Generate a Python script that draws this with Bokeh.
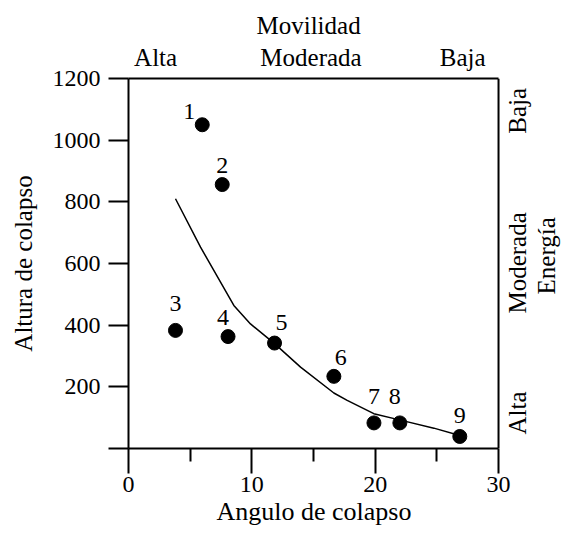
import math
from bokeh.plotting import figure
from bokeh.models import Range1d, LinearAxis, FixedTicker, ColumnDataSource, Label, Span, Title
from bokeh.embed import file_html
from bokeh.resources import INLINE
from bokeh.core.properties import value

# ---- data ----
point_ids = ["1", "2", "3", "4", "5", "6", "7", "8", "9"]
collapse_angle = [5.98, 7.6, 3.81, 8.07, 11.84, 16.65, 19.9, 22.0, 26.86]
collapse_height = [1050, 856, 383, 363, 342, 234, 83, 83, 39]

fit_angle = [3.81, 5.84, 8.54, 9.89, 11.84, 13.95, 16.65, 17.73, 19.89, 22.05, 24.76, 26.86]
fit_height = [810, 653, 464, 404, 340, 264, 180, 156, 113, 92, 66, 42]

x_ticks = [0, 10, 20, 30]
x_minor_ticks = [5, 15, 25]
y_ticks = [0, 200, 400, 600, 800, 1000, 1200]

mobility_labels = ["Alta", "Moderada", "Baja"]
mobility_pos = [2.2, 14.8, 27.1]
energy_labels = ["Alta", "Moderada", "Baja"]
energy_pos = [115, 602, 1095]
energy_title = "Energía"
energy_title_pos = 625

X_MAX = 30      # end of the angle axis
X_VIEW = 35.43  # view extends past the box so the right-hand words fit
# layout (not data): label placement in screen px relative to each point
label_dx = [-13, 0, 0, -5, 7, 7, 0, -5, 0]
label_dy = [-13, -19, -27, -19, -21, -19, -26, -26, -21]

FONT = "'Liberation Serif', 'Times New Roman', 'DejaVu Serif', serif"
TICK_SIZE = "24px"
WORD_SIZE = "25px"
LABEL_SIZE = "25px"

p = figure(width=565, height=533, output_backend="svg", toolbar_location=None,
           x_range=Range1d(0, X_VIEW), y_range=Range1d(0, 1200),
           min_border_left=128, min_border_right=0, min_border_top=78, min_border_bottom=85,
           y_axis_label="Altura de colapso")
p.grid.visible = False
p.background_fill_color = "white"
p.border_fill_color = "white"
p.outline_line_color = None

p.title.text = "Movilidad"
p.title.align = "left"
p.title.offset = 128
p.title.text_font = FONT
p.title.text_font_size = LABEL_SIZE
p.title.text_font_style = "normal"
p.title.text_color = "black"
p.title.standoff = 4

def style_axis(ax, tick_size):
    ax.major_label_text_font = FONT
    ax.major_label_text_font_size = tick_size
    ax.major_label_text_color = "black"
    ax.axis_label_text_font = FONT
    ax.axis_label_text_font_size = LABEL_SIZE
    ax.axis_label_text_font_style = "normal"
    ax.axis_label_text_color = "black"
    ax.axis_line_color = "black"
    ax.axis_line_width = 2
    ax.major_tick_line_color = "black"
    ax.major_tick_line_width = 2
    ax.minor_tick_line_color = "black"
    ax.minor_tick_line_width = 2
    ax.major_tick_in = 0
    ax.minor_tick_in = 0

xa = p.xaxis[0]
style_axis(xa, TICK_SIZE)
xa.bounds = (0, X_MAX)
xa.ticker = FixedTicker(ticks=x_ticks, minor_ticks=x_minor_ticks)
xa.major_tick_out = 25
xa.minor_tick_out = 13
xa.major_label_standoff = 3

p.add_layout(Title(text="Angulo de colapso", align="left", offset=88,
                   text_font=FONT, text_font_size="26px", text_font_style="normal",
                   text_color="black", standoff=0), "below")

ya = p.yaxis[0]
style_axis(ya, TICK_SIZE)
ya.ticker = FixedTicker(ticks=y_ticks)
ya.major_label_overrides = {0: ""}
ya.major_tick_out = 20
ya.minor_tick_out = 0
ya.major_label_standoff = 8
ya.axis_label_standoff = 13

top = LinearAxis(ticker=FixedTicker(ticks=mobility_pos), bounds=(0, X_MAX),
                 major_label_overrides={v: t for v, t in zip(mobility_pos, mobility_labels)})
style_axis(top, WORD_SIZE)
top.major_tick_line_color = None
top.minor_tick_line_color = None
top.major_tick_out = 0
top.minor_tick_out = 0
top.major_label_standoff = 8
p.add_layout(top, "above")

# right edge of the box
p.add_layout(Span(location=X_MAX, dimension="height", line_color="black", line_width=2))

# right-hand energy scale
for txt, yv in zip(energy_labels, energy_pos):
    p.add_layout(Label(x=31.52, y=yv, text=txt, angle=math.pi / 2,
                       text_align="center", text_baseline="alphabetic",
                       text_font=FONT, text_font_size=WORD_SIZE, text_color="black"))
p.add_layout(Label(x=33.92, y=energy_title_pos, text=energy_title, angle=math.pi / 2,
                   text_align="center", text_baseline="alphabetic",
                   text_font=FONT, text_font_size=LABEL_SIZE, text_color="black"))

p.line(fit_angle, fit_height, line_color="black", line_width=1.5)

src = ColumnDataSource(dict(x=collapse_angle, y=collapse_height, t=point_ids,
                            dx=label_dx, dy=label_dy))
p.scatter("x", "y", source=src, size=14, fill_color="black", line_color="black")
p.text("x", "y", text="t", source=src, x_offset="dx", y_offset="dy",
       text_align="center", text_baseline="middle",
       text_font=value(FONT), text_font_size=TICK_SIZE, text_color="black")

open("out.html", "w").write(file_html(p, INLINE))
